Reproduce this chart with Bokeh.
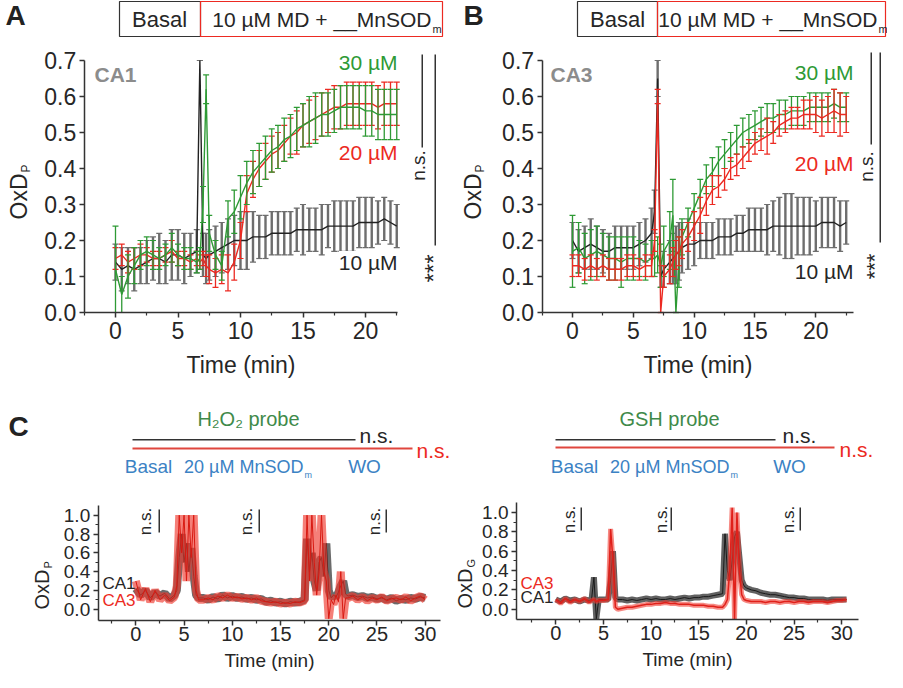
import numpy as np
from bokeh.plotting import figure
from bokeh.models import ColumnDataSource, Label, BoxAnnotation, FixedTicker, PrintfTickFormatter
from bokeh.layouts import row, column
from bokeh.embed import file_html
from bokeh.resources import INLINE

# ---------------- data ----------------
# Panel A (CA1): time grid and OxD_P mean / error per MnSOD_m dose
tA = [0, 0.5, 1, 1.5, 2, 2.5, 3, 3.5, 4, 4.5, 5, 5.5, 6, 6.5, 6.75, 7, 7.25,
      7.5, 8, 8.5, 9, 9.5, 10, 10.5, 11, 11.5, 12, 12.5, 13, 13.5, 14, 14.5, 15,
      15.5, 16, 16.5, 17, 17.5, 18, 18.5, 19, 19.5, 20, 20.5, 21, 21.5, 22, 22.5]
a_10 = [0.14, 0.12, 0.13, 0.12, 0.13, 0.14, 0.15, 0.15, 0.14, 0.16, 0.16, 0.15, 0.16, 0.17,
        0.70, 0.16, 0.15,
        0.16, 0.17, 0.18, 0.19, 0.20, 0.20, 0.20, 0.21, 0.21, 0.21,
        0.22, 0.22, 0.22, 0.22, 0.23, 0.23, 0.23, 0.23, 0.23, 0.24,
        0.24, 0.24, 0.24, 0.24, 0.25, 0.25, 0.25, 0.25, 0.26, 0.25, 0.24]
a_10_err = [0.05, 0.06, 0.05, 0.06, 0.05, 0.06, 0.06, 0.07, 0.06, 0.07, 0.07, 0.07, 0.06, 0.06,
            0.00, 0.06, 0.07,
            0.07, 0.07, 0.07, 0.07, 0.07, 0.08, 0.08, 0.07, 0.06, 0.06,
            0.06, 0.06, 0.06, 0.06, 0.06, 0.07, 0.06, 0.06, 0.07, 0.06,
            0.07, 0.07, 0.07, 0.07, 0.07, 0.07, 0.07, 0.06, 0.06, 0.06, 0.06]
a_30 = [0.12, 0.05, 0.10, 0.13, 0.16, 0.17, 0.16, 0.15, 0.16, 0.18, 0.16, 0.15, 0.15, 0.14,
        0.15, 0.30, 0.62,
        0.22, 0.16, 0.13, 0.26, 0.28, 0.32, 0.36, 0.39, 0.41, 0.43,
        0.45, 0.46, 0.48, 0.49, 0.51, 0.52, 0.53, 0.54, 0.55, 0.55,
        0.56, 0.57, 0.57, 0.57, 0.57, 0.56, 0.56, 0.55, 0.55, 0.55, 0.55]
a_30_err = [0.12, 0.05, 0.06, 0.05, 0.04, 0.04, 0.04, 0.03, 0.03, 0.04, 0.03, 0.03, 0.03, 0.03,
            0.03, 0.05, 0.04,
            0.05, 0.04, 0.04, 0.05, 0.06, 0.06, 0.06, 0.06, 0.06, 0.06,
            0.06, 0.06, 0.06, 0.06, 0.06, 0.06, 0.07, 0.07, 0.06, 0.06,
            0.06, 0.06, 0.06, 0.06, 0.06, 0.07, 0.07, 0.07, 0.07, 0.07, 0.07]
a_20 = [0.15, 0.16, 0.14, 0.15, 0.16, 0.16, 0.15, 0.15, 0.16, 0.17, 0.15, 0.15, 0.14, 0.15,
        0.14, 0.15, 0.13,
        0.12, 0.11, 0.12, 0.11, 0.14, 0.20, 0.33, 0.37, 0.40, 0.42,
        0.44, 0.45, 0.47, 0.49, 0.50, 0.52, 0.53, 0.54, 0.55, 0.56,
        0.57, 0.57, 0.58, 0.58, 0.58, 0.58, 0.58, 0.57, 0.58, 0.58, 0.58]
a_20_err = [0.03, 0.03, 0.03, 0.03, 0.03, 0.02, 0.02, 0.02, 0.02, 0.03, 0.02, 0.02, 0.02, 0.02,
            0.02, 0.02, 0.03,
            0.04, 0.04, 0.04, 0.05, 0.05, 0.05, 0.05, 0.05, 0.05, 0.05,
            0.05, 0.05, 0.05, 0.05, 0.06, 0.06, 0.06, 0.06, 0.06, 0.06,
            0.06, 0.06, 0.06, 0.06, 0.06, 0.06, 0.06, 0.06, 0.06, 0.06, 0.06]

# Panel B (CA3)
tB = [0, 0.5, 1, 1.5, 2, 2.5, 3, 3.5, 4, 4.5, 5, 5.5, 6, 6.5,
      6.75, 7, 7.25, 7.5, 8, 8.25, 8.5, 8.75, 9,
      9.5, 10, 10.5, 11, 11.5, 12, 12.5, 13, 13.5, 14,
      14.5, 15, 15.5, 16, 16.5, 17, 17.5, 18, 18.5, 19,
      19.5, 20, 20.5, 21, 21.5, 22, 22.5]
b_10 = [0.20, 0.17, 0.18, 0.19, 0.18, 0.17, 0.17, 0.18, 0.18, 0.18, 0.18, 0.19, 0.20, 0.22,
        0.28, 0.65, 0.10, 0.12, 0.14, 0.15, 0.16, 0.17, 0.18,
        0.19, 0.19, 0.20, 0.20, 0.20, 0.21, 0.21, 0.21, 0.22, 0.22,
        0.23, 0.23, 0.23, 0.23, 0.24, 0.24, 0.24, 0.24, 0.24, 0.24,
        0.24, 0.24, 0.25, 0.25, 0.25, 0.24, 0.25]
b_10_err = [0.05, 0.06, 0.06, 0.07, 0.06, 0.06, 0.05, 0.06, 0.06, 0.06, 0.06, 0.06, 0.06, 0.07,
            0.06, 0.05, 0.03, 0.05, 0.06, 0.07, 0.08, 0.08, 0.07,
            0.07, 0.06, 0.05, 0.05, 0.05, 0.05, 0.05, 0.05, 0.05, 0.05,
            0.06, 0.06, 0.06, 0.07, 0.07, 0.08, 0.09, 0.09, 0.08, 0.08,
            0.08, 0.07, 0.07, 0.07, 0.07, 0.07, 0.06]
b_30 = [0.17, 0.18, 0.15, 0.16, 0.17, 0.16, 0.15, 0.15, 0.14, 0.15, 0.15, 0.15, 0.14, 0.15,
        0.15, 0.16, 0.13, 0.17, 0.20, 0.27, 0.00, 0.14, 0.21,
        0.25, 0.29, 0.33, 0.37, 0.39, 0.42, 0.44, 0.46, 0.48, 0.50,
        0.51, 0.52, 0.53, 0.54, 0.54, 0.55, 0.55, 0.56, 0.56, 0.56,
        0.57, 0.57, 0.57, 0.57, 0.58, 0.57, 0.57]
b_30_err = [0.10, 0.07, 0.07, 0.07, 0.07, 0.06, 0.06, 0.06, 0.07, 0.06, 0.06, 0.05, 0.05, 0.05,
            0.05, 0.05, 0.06, 0.07, 0.08, 0.10, 0.00, 0.07, 0.05,
            0.04, 0.04, 0.04, 0.04, 0.04, 0.04, 0.04, 0.04, 0.04, 0.04,
            0.04, 0.04, 0.04, 0.04, 0.04, 0.04, 0.04, 0.04, 0.04, 0.04,
            0.04, 0.04, 0.04, 0.04, 0.04, 0.04, 0.04]
b_20 = [0.13, 0.13, 0.12, 0.13, 0.12, 0.13, 0.12, 0.12, 0.12, 0.13, 0.13, 0.12, 0.13, 0.13,
        0.20, 0.60, 0.00, 0.10, 0.12, 0.14, 0.16, 0.17, 0.19,
        0.21, 0.24, 0.27, 0.31, 0.34, 0.35, 0.37, 0.40, 0.41, 0.43,
        0.45, 0.47, 0.48, 0.49, 0.50, 0.52, 0.53, 0.54, 0.54, 0.55,
        0.55, 0.55, 0.54, 0.55, 0.56, 0.55, 0.55]
b_20_err = [0.03, 0.03, 0.03, 0.03, 0.03, 0.03, 0.03, 0.03, 0.03, 0.03, 0.03, 0.03, 0.03, 0.03,
            0.03, 0.02, 0.00, 0.03, 0.04, 0.04, 0.04, 0.04, 0.04,
            0.04, 0.04, 0.05, 0.04, 0.04, 0.03, 0.03, 0.03, 0.03, 0.03,
            0.03, 0.03, 0.03, 0.05, 0.03, 0.03, 0.03, 0.03, 0.03, 0.04,
            0.04, 0.05, 0.05, 0.05, 0.06, 0.06, 0.05]

# Panel C left: H2O2 probe (OxD_P) traces
tC1 = [0, 0.5, 1, 1.5, 2, 2.5, 3, 3.5, 4,
       4.25, 4.5, 4.75, 5, 5.25, 5.5, 5.75, 6, 6.25, 6.5,
       7, 7.5, 8, 8.5, 9, 9.5, 10, 10.5, 11, 11.5, 12, 12.5, 13, 13.5, 14, 14.5,
       15, 15.5, 16, 16.5, 17, 17.5,
       17.75, 18, 18.25, 18.5, 18.75, 19, 19.25, 19.5, 19.75, 20, 20.25, 20.5,
       20.75, 21, 21.25, 21.5, 21.75, 22,
       22.5, 23, 23.5, 24, 24.5, 25, 25.5, 26, 26.5, 27, 27.5, 28, 28.5, 29, 29.5, 30]
c1_ca1 = [0.22, 0.15, 0.20, 0.12, 0.18, 0.14, 0.17, 0.11, 0.15,
          0.20, 0.55, 0.80, 0.50, 0.70, 0.40, 0.65, 0.35, 0.15, 0.12,
          0.12, 0.10, 0.13, 0.11, 0.15, 0.12, 0.14, 0.12, 0.13, 0.11, 0.12, 0.10,
          0.11, 0.08, 0.09, 0.07, 0.08, 0.06, 0.08, 0.07, 0.08, 0.10,
          0.75, 0.40, 0.60, 0.30, 0.20, 0.50, 0.55, 0.35, 0.70, 0.20, 0.12, 0.15,
          0.13, 0.18, 0.25, 0.30, 0.16, 0.14,
          0.15, 0.13, 0.14, 0.12, 0.13, 0.11, 0.12, 0.10, 0.12, 0.09, 0.11, 0.10,
          0.12, 0.11, 0.13, 0.12]
c1_ca3 = [0.30, 0.10, 0.22, 0.08, 0.20, 0.10, 0.15, 0.09, 0.13,
          0.25, 1.00, 0.60, 1.00, 0.30, 1.00, 0.55, 1.00, 0.20, 0.10,
          0.10, 0.12, 0.10, 0.14, 0.12, 0.15, 0.12, 0.13, 0.11, 0.12, 0.10, 0.12,
          0.09, 0.08, 0.07, 0.08, 0.06, 0.07, 0.06, 0.08, 0.07, 0.09,
          1.00, 0.30, 1.00, 0.50, 0.15, 0.40, 1.00, 0.40, 0.30, -0.10, 0.10, 0.05,
          0.15, 0.08, 0.40, -0.10, 0.12, 0.12,
          0.14, 0.10, 0.13, 0.09, 0.12, 0.10, 0.13, 0.09, 0.11, 0.12, 0.10, 0.13,
          0.09, 0.12, 0.14, 0.10]

# Panel C right: GSH probe (OxD_G) traces
tC2 = [0, 0.5, 1, 1.5, 2, 2.5, 3, 3.5,
       3.75, 4, 4.25, 4.5,
       5, 5.5,
       5.75, 6, 6.25, 6.5,
       7, 7.5, 8, 8.5, 9, 9.5, 10, 10.5, 11, 11.5, 12, 12.5, 13, 13.5, 14, 14.5,
       15, 15.5, 16, 16.5, 17, 17.5,
       17.75, 18, 18.25, 18.5, 18.75, 19, 19.25, 19.5, 19.75, 20,
       20.5, 21, 21.5, 22, 22.5, 23, 23.5, 24, 24.5, 25, 25.5, 26, 26.5, 27, 27.5,
       28, 28.5, 29, 29.5, 30, 30.5]
c2_ca1 = [0.10, 0.08, 0.11, 0.09, 0.10, 0.08, 0.10, 0.09,
          0.10, 0.33, -0.10, 0.10,
          0.10, 0.10,
          0.30, 0.60, 0.12, 0.10,
          0.10, 0.09, 0.10, 0.09, 0.10, 0.11, 0.10, 0.11, 0.10, 0.10, 0.11, 0.10,
          0.11, 0.12, 0.11, 0.12, 0.12, 0.13, 0.13, 0.14, 0.15, 0.16,
          0.78, 0.40, 0.30, 0.50, 0.75, 0.80, 0.55, 0.30, 0.24, 0.22,
          0.20, 0.19, 0.17, 0.16, 0.15, 0.15, 0.14, 0.13, 0.12, 0.12, 0.11, 0.11,
          0.10, 0.10, 0.10, 0.10, 0.09, 0.10, 0.10, 0.10, 0.10]
c2_ca3 = [0.10, 0.06, 0.11, 0.07, 0.10, 0.08, 0.11, 0.07,
          0.09, 0.10, 0.08, 0.09,
          0.09, 0.10,
          0.83, 0.50, 0.02, 0.00,
          0.01, 0.02, 0.02, 0.03, 0.04, 0.05, 0.05, 0.06, 0.06, 0.07, 0.06, 0.06,
          0.05, 0.05, 0.05, 0.04, 0.04, 0.04, 0.03, 0.03, 0.02, 0.02,
          0.05, 0.10, 0.40, 1.05, -0.10, 1.00, 0.40, 0.15, 0.10, 0.09,
          0.08, 0.08, 0.08, 0.07, 0.08, 0.08, 0.07, 0.08, 0.08, 0.07, 0.08, 0.08,
          0.07, 0.08, 0.08, 0.08, 0.07, 0.08, 0.09, 0.09, 0.10]

# tick values
ab_xticks = [0, 5, 10, 15, 20]
ab_xminor = [-2.5, 2.5, 7.5, 12.5, 17.5, 22.5]
ab_yticks = [0.0, 0.1, 0.2, 0.3, 0.4, 0.5, 0.6, 0.7]
c_xticks = [0, 5, 10, 15, 20, 25, 30]
c_xminor = [-2.5, 2.5, 7.5, 12.5, 17.5, 22.5, 27.5]
c_yticks = [0.0, 0.2, 0.4, 0.6, 0.8, 1.0]
c_yminor = [0.1, 0.3, 0.5, 0.7, 0.9]

# ---------------- style ----------------
FONT = "Liberation Sans"
AX = "#333333"
TXT = "#262626"
GREEN = "#2e9a35"
RED = "#ec2a22"
BLK = "#222222"
BLKBAR = "#6e6e6e"
GREY = "#8c8c8c"
BLUE = "#3b82c4"
PGREEN = "#3f8a4a"


def panel_fig(w, h, xr, yr, x_axis_at, y_axis_at, xb, yb):
    # the frame fills the whole figure; the axes sit at fixed data locations
    p = figure(width=w, height=h, x_range=xr, y_range=yr, output_backend="svg",
               toolbar_location=None, min_border=0)
    p.outline_line_color = None
    p.xgrid.visible = False
    p.ygrid.visible = False
    p.xaxis.fixed_location = x_axis_at
    p.yaxis.fixed_location = y_axis_at
    p.xaxis.bounds = xb
    p.yaxis.bounds = yb
    return p


def style_axes(p, xt, xm, yt, ym, xtick_fs, ytick_fs, lab_fs, x_standoff, lab_standoff):
    p.xaxis.ticker = FixedTicker(ticks=xt, minor_ticks=xm)
    p.yaxis.ticker = FixedTicker(ticks=yt, minor_ticks=ym)
    p.xaxis.formatter = PrintfTickFormatter(format="%d")
    p.yaxis.formatter = PrintfTickFormatter(format="%.1f")
    for ax in (p.xaxis, p.yaxis):
        ax.axis_line_color = AX
        ax.axis_line_width = 1.5
        ax.major_tick_line_color = AX
        ax.major_tick_line_width = 1.5
        ax.minor_tick_line_color = AX
        ax.minor_tick_line_width = 1.2
        ax.major_tick_out = 5
        ax.major_tick_in = 0
        ax.minor_tick_out = 3
        ax.minor_tick_in = 0
        ax.major_label_text_font = FONT
        ax.major_label_text_color = TXT
    p.xaxis.major_label_text_font_size = xtick_fs
    p.yaxis.major_label_text_font_size = ytick_fs
    p.xaxis.major_label_standoff = x_standoff
    p.yaxis.major_label_standoff = 3
    p.xaxis.axis_label = "Time (min)"
    p.xaxis.axis_label_text_font = FONT
    p.xaxis.axis_label_text_font_size = lab_fs
    p.xaxis.axis_label_text_font_style = "normal"
    p.xaxis.axis_label_text_color = TXT
    p.xaxis.axis_label_standoff = lab_standoff


def txt(p, org, ix, iy, text, size, color=TXT, align="center", base="middle",
        angle=0.0, bold=False, bg=None):
    lab = Label(x=ix - org[0], y=org[1] - iy, x_units="screen", y_units="screen",
                text=text, text_font=FONT, text_font_size=f"{size}px", text_color=color,
                text_align=align, text_baseline=base, angle=angle,
                text_font_style="bold" if bold else "normal")
    if bg:
        lab.background_fill_color = bg
        lab.background_fill_alpha = 1.0
    p.add_layout(lab)


def rect(p, org, x0, y0, x1, y1, line=None, fill=None, lw=1.2):
    b = BoxAnnotation(left=x0 - org[0], right=x1 - org[0], top=org[1] - y0, bottom=org[1] - y1,
                      left_units="screen", right_units="screen",
                      top_units="screen", bottom_units="screen",
                      fill_color=fill if fill else "white", fill_alpha=1.0 if fill else 0.0,
                      line_color=line if line else "white", line_alpha=1.0 if line else 0.0,
                      line_width=lw)
    p.add_layout(b)


def err_series(p, t, vals, errs, color, barcolor, barw):
    src = ColumnDataSource(dict(x=t, y=vals,
                                lo=[v - e for v, e in zip(vals, errs)],
                                hi=[v + e for v, e in zip(vals, errs)]))
    p.segment(x0="x", y0="lo", x1="x", y1="hi", source=src, line_color=barcolor, line_width=barw)
    p.dash(x="x", y="hi", source=src, size=6, line_color=barcolor, line_width=1.2)
    p.dash(x="x", y="lo", source=src, size=6, line_color=barcolor, line_width=1.2)
    p.line("x", "y", source=src, line_color=color, line_width=1.4)


def ylabel(p, org, ix, iy, main, sub, size, subsize):
    txt(p, org, ix, iy, main, size, align="right", angle=np.pi / 2)
    txt(p, org, ix + size * 0.33, iy - 1, sub, subsize, align="left", angle=np.pi / 2)


# ---------------- Panel A ----------------
# figure spans page x 8..455, y 8..400; axes: x 0 -> px 123, 12.5 px/min; y 0 -> px 320, 360 px/unit
pA = panel_fig(447, 392, (-9.2, 26.56), (-0.2222, 0.8667), 0.0, -2.5, (-2.5, 22.55), (0.0, 0.7))
style_axes(pA, ab_xticks, ab_xminor, ab_yticks, [], "23px", "23px", "23px", 4, 10)
err_series(pA, tA, a_10, a_10_err, BLK, BLKBAR, 2.4)
err_series(pA, tA, a_20, a_20_err, RED, RED, 1.3)
err_series(pA, tA, a_30, a_30_err, GREEN, GREEN, 1.3)
oA = (8, 400)
txt(pA, oA, 23, 23, "A", 28, color="#222222", bold=True)
rect(pA, oA, 127, 9, 208, 44, line=AX)
rect(pA, oA, 208, 9, 450, 44, line=RED)
txt(pA, oA, 167, 27, "Basal", 22)
txt(pA, oA, 439, 27, "10 µM MD + __MnSOD", 21, align="right")
txt(pA, oA, 440, 36, "m", 11, align="left")
txt(pA, oA, 102, 82, "CA1", 21, color=GREY, align="left", bold=True)
txt(pA, oA, 405, 70, "30 µM", 21, color=GREEN, align="right", bg="white")
txt(pA, oA, 405, 160, "20 µM", 21, color=RED, align="right", bg="white")
txt(pA, oA, 405, 270, "10 µM", 21, color=TXT, align="right", bg="white")
rect(pA, oA, 429, 62, 430.5, 155, fill=AX)
txt(pA, oA, 426, 173, "n.s.", 19, angle=np.pi / 2)
rect(pA, oA, 442, 62, 443.5, 253, fill=AX)
txt(pA, oA, 441, 276, "***", 24, angle=np.pi / 2)
ylabel(pA, oA, 26, 181, "OxD", "P", 23, 12)

# ---------------- Panel B ----------------
pB = panel_fig(440, 392, (-10.275, 25.894), (-0.2222, 0.8667), 0.0, -2.5, (-2.5, 23.07), (0.0, 0.7))
style_axes(pB, ab_xticks, ab_xminor, ab_yticks, [], "23px", "23px", "23px", 4, 10)
err_series(pB, tB, b_10, b_10_err, BLK, BLKBAR, 2.4)
err_series(pB, tB, b_30, b_30_err, GREEN, GREEN, 1.3)
err_series(pB, tB, b_20, b_20_err, RED, RED, 1.3)
oB = (455, 400)
txt(pB, oB, 481, 23, "B", 28, color="#222222", bold=True)
rect(pB, oB, 585, 9, 665, 44, line=AX)
rect(pB, oB, 665, 9, 893, 44, line=RED)
txt(pB, oB, 625, 27, "Basal", 22)
txt(pB, oB, 885, 27, "10 µM MD + __MnSOD", 21, align="right")
txt(pB, oB, 886, 36, "m", 11, align="left")
txt(pB, oB, 558, 82, "CA3", 21, color=GREY, align="left", bold=True)
txt(pB, oB, 861, 80, "30 µM", 21, color=GREEN, align="right", bg="white")
txt(pB, oB, 861, 171, "20 µM", 21, color=RED, align="right", bg="white")
txt(pB, oB, 861, 279, "10 µM", 21, color=TXT, align="right", bg="white")
rect(pB, oB, 878, 60, 879.5, 152, fill=AX)
txt(pB, oB, 874, 174, "n.s.", 19, angle=np.pi / 2)
rect(pB, oB, 887, 60, 888.5, 250, fill=AX)
txt(pB, oB, 882, 274, "***", 22, angle=np.pi / 2)
ylabel(pB, oB, 480, 181, "OxD", "P", 23, 12)

# ---------------- Panel C left ----------------
pC1 = panel_fig(452, 280, (-14.03, 32.83), (-0.673, 2.305), -0.117, -3.9, (-3.9, 31.6), (-0.117, 1.1))
style_axes(pC1, c_xticks, c_xminor, c_yticks, c_yminor, "20px", "19px", "19px", 2, 5)
pC1.line(tC1, c1_ca1, line_color="#3a3a3a", line_width=8, line_alpha=0.75)
pC1.line(tC1, c1_ca1, line_color="#1a1a1a", line_width=1)
pC1.line(tC1, c1_ca3, line_color="#f03a30", line_width=8, line_alpha=0.65)
pC1.line(tC1, c1_ca3, line_color="#d81a12", line_width=1)
oC1 = (8, 680)
txt(pC1, oC1, 26, 434, "C", 28, color="#222222", bold=True)
txt(pC1, oC1, 256, 426, "H₂O₂ probe", 20, color=PGREEN)
rect(pC1, oC1, 140, 446.5, 363, 448, fill=AX)
txt(pC1, oC1, 367, 443, "n.s.", 21, align="left")
rect(pC1, oC1, 140, 455, 420, 457, fill="#e0463e")
txt(pC1, oC1, 424, 458, "n.s.", 21, color=RED, align="left")
txt(pC1, oC1, 156, 474, "Basal", 19, color=BLUE)
txt(pC1, oC1, 311, 474, "20 µM MnSOD", 18, color=BLUE, align="right")
txt(pC1, oC1, 312, 482, "m", 9, color=BLUE, align="left")
txt(pC1, oC1, 372, 474, "WO", 19, color=BLUE)
for cx, lx in [(153, 166), (254, 266), (382, 393)]:
    txt(pC1, oC1, cx, 529, "n.s.", 17, angle=np.pi / 2)
    rect(pC1, oC1, lx, 517, lx + 1.5, 540, fill=AX)
txt(pC1, oC1, 110, 591, "CA1", 17, color=TXT, align="left")
txt(pC1, oC1, 110, 608, "CA3", 17, color=RED, align="left")
ylabel(pC1, oC1, 49, 577, "OxD", "P", 20, 11)

# ---------------- Panel C right ----------------
pC2 = panel_fig(435, 280, (-10.836, 34.795), (-0.6546, 2.241), -0.103, -4.12, (-4.12, 31.8), (-0.103, 1.1))
style_axes(pC2, c_xticks, c_xminor, c_yticks, c_yminor, "20px", "19px", "19px", 2, 5)
pC2.line(tC2, c2_ca1, line_color="#3a3a3a", line_width=6, line_alpha=0.8)
pC2.line(tC2, c2_ca1, line_color="#1a1a1a", line_width=1)
pC2.line(tC2, c2_ca3, line_color="#f03a30", line_width=5, line_alpha=0.6)
pC2.line(tC2, c2_ca3, line_color="#e0201a", line_width=1.5)
oC2 = (460, 680)
txt(pC2, oC2, 677, 426, "GSH probe", 20, color=PGREEN)
rect(pC2, oC2, 563, 446.5, 783, 448, fill=AX)
txt(pC2, oC2, 790, 443, "n.s.", 21, align="left")
rect(pC2, oC2, 563, 454, 842, 456, fill="#e0463e")
txt(pC2, oC2, 847, 457, "n.s.", 21, color=RED, align="left")
txt(pC2, oC2, 582, 474, "Basal", 19, color=BLUE)
txt(pC2, oC2, 737, 474, "20 µM MnSOD", 18, color=BLUE, align="right")
txt(pC2, oC2, 738, 482, "m", 9, color=BLUE, align="left")
txt(pC2, oC2, 797, 474, "WO", 19, color=BLUE)
for cx, lx in [(577, 588), (669, 678), (796, 807)]:
    txt(pC2, oC2, cx, 527, "n.s.", 17, angle=np.pi / 2)
    rect(pC2, oC2, lx, 515, lx + 1.5, 538, fill=AX)
txt(pC2, oC2, 528, 591, "CA3", 17, color=RED, align="left")
txt(pC2, oC2, 528, 605, "CA1", 17, color=TXT, align="left")
ylabel(pC2, oC2, 472, 576, "OxD", "G", 20, 11)

layout = column(row(pA, pB), row(pC1, pC2))
open("out.html", "w").write(file_html(layout, INLINE))
